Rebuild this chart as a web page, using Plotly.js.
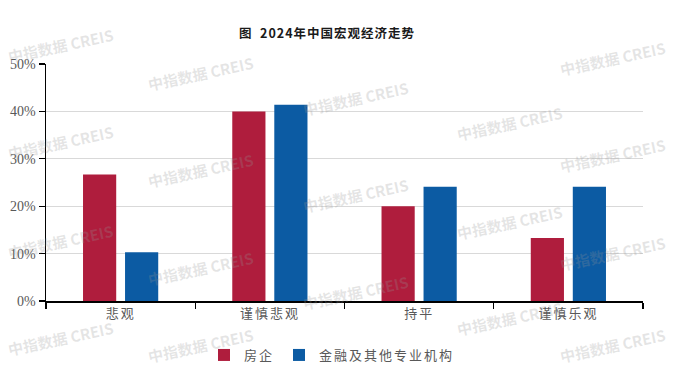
<!DOCTYPE html>
<html>
<head>
<meta charset="utf-8">
<script src="https://cdn.plot.ly/plotly-3.0.1.min.js"></script>
<style>
  html, body { margin: 0; padding: 0; background: #fff; }
  #chart { width: 675px; height: 372px; }
  .xtick text, .legendtext { letter-spacing: 2px; }
  .gtitle { letter-spacing: 1px; }
</style>
</head>
<body>
<div id="chart"></div>
<script>
// ---- data ----
const categories = ['悲观', '谨慎悲观', '持平', '谨慎乐观'];
const seriesNames = ['房企', '金融及其他专业机构'];
const developers = [26.7, 40.0, 20.0, 13.3];
const financial = [10.3, 41.4, 24.1, 24.1];
const yTickVals = [0, 10, 20, 30, 40, 50];
const yTickText = ['0%', '10%', '20%', '30%', '40%', '50%'];
const titleText = '图  2024年中国宏观经济走势';
const watermarkText = '中指数据 CREIS';

// ---- layout helpers (decoration only) ----
const W = 675, H = 372;
const M = { l: 46, r: 32, t: 64, b: 71 };
const pw = W - M.l - M.r, ph = H - M.t - M.b;
const px2x = px => (px - M.l) / pw;
const py2y = py => (H - M.b - py) / ph;

const wmSpots = [
  [60, 45], [60, 142], [60, 242], [60, 338],
  [200, 73], [200, 170], [200, 268], [200, 345],
  [355, 98], [355, 195], [355, 292],
  [509, 123], [509, 222], [509, 318],
  [612, 58], [612, 155], [612, 253], [612, 345]
];
const annotations = wmSpots.map(([x, y]) => ({
  text: watermarkText, xref: 'paper', yref: 'paper',
  x: px2x(x), y: py2y(y), xanchor: 'center', yanchor: 'middle',
  showarrow: false, textangle: -12,
  font: { family: 'Noto Sans CJK SC, Noto Sans', size: 15, weight: 700, color: 'rgba(150,150,150,0.25)' }
}));

const traces = [
  { type: 'bar', name: seriesNames[0], x: categories, y: developers,
    marker: { color: '#AF1D3D' }, hoverinfo: 'skip' },
  { type: 'bar', name: seriesNames[1], x: categories, y: financial,
    marker: { color: '#0C5BA3' }, hoverinfo: 'skip' }
];

const layout = {
  width: W, height: H,
  margin: M,
  paper_bgcolor: '#fff', plot_bgcolor: '#fff',
  barmode: 'group', bargap: 0.437, bargroupgap: 0.21,
  title: {
    text: titleText, x: 327 / W, xref: 'container', xanchor: 'center',
    y: 1 - 34 / H, yref: 'container', yanchor: 'middle',
    font: { family: 'Noto Sans CJK SC', size: 12.5, weight: 700, color: '#1a1a1a' }
  },
  xaxis: {
    type: 'category', tickson: 'boundaries',
    showline: true, linecolor: '#000', linewidth: 1.5,
    ticks: 'outside', ticklen: 6, tickcolor: '#000', tickwidth: 1.2,
    showgrid: false, zeroline: false, automargin: false,
    tickfont: { family: 'Noto Sans CJK SC', size: 13, color: '#595959' }
  },
  yaxis: {
    range: [0, 50], tickvals: yTickVals, ticktext: yTickText,
    showline: true, linecolor: '#000', linewidth: 1.5,
    ticks: 'outside', ticklen: 6, tickcolor: '#000', tickwidth: 1.2,
    showgrid: true, gridcolor: '#d9d9d9', gridwidth: 1, zeroline: false, automargin: false,
    tickfont: { family: 'Liberation Serif', size: 14, color: '#595959' }
  },
  showlegend: true,
  legend: {
    orientation: 'h', x: 332 / W, xref: 'container', xanchor: 'center',
    y: (H - 355) / H, yref: 'container', yanchor: 'middle',
    font: { family: 'Noto Sans CJK SC', size: 13, color: '#595959' },
    itemwidth: 30, traceorder: 'normal'
  },
  annotations: annotations
};

Plotly.newPlot('chart', traces, layout, { displayModeBar: false, staticPlot: true });
</script>
</body>
</html>
